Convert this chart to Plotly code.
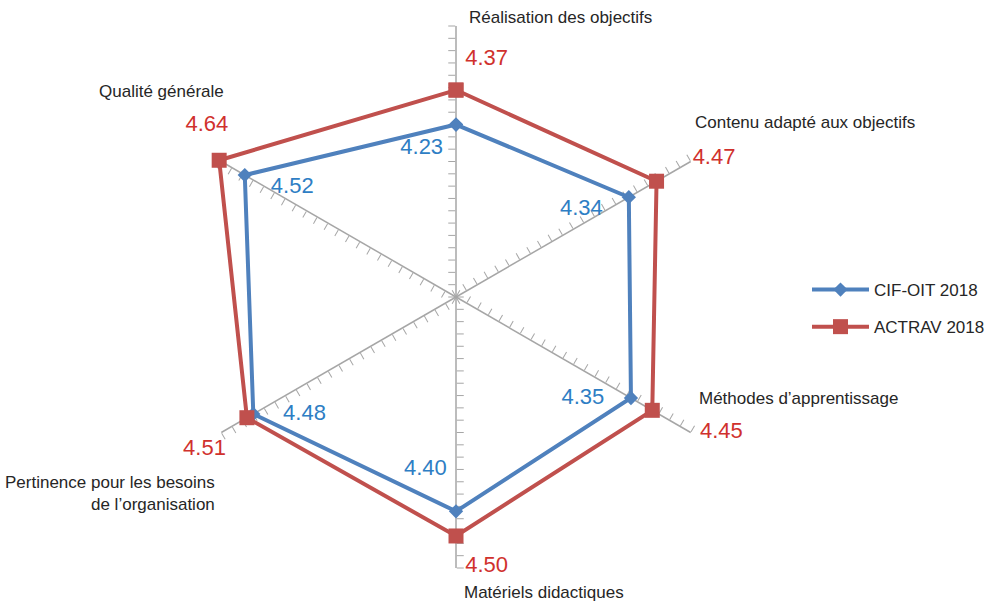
import plotly.graph_objects as go

# Evaluation criteria, clockwise from the top
categories = [
    "Réalisation des objectifs",
    "Contenu adapté aux objectifs",
    "Méthodes d’apprentissage",
    "Matériels didactiques",
    "Pertinence pour les besoins<br>de l’organisation",
    "Qualité générale",
]
cif_oit_2018 = [4.23, 4.34, 4.35, 4.40, 4.48, 4.52]
actrav_2018 = [4.37, 4.47, 4.45, 4.50, 4.51, 4.64]

series_names = ["CIF-OIT 2018", "ACTRAV 2018"]

# Value-label placement: (textposition, offset marker size, leading pad, trailing pad)
cif_label_style = [
    ("bottom left", 19, 0, 0),
    ("bottom left", 1, 0, 4),
    ("middle left", 41, 0, 0),
    ("top center", 47, 0, 10),
    ("middle right", 46, 0, 0),
    ("bottom right", 1, 4, 0),
]
actrav_label_style = [
    ("top center", 30, 10, 0),
    ("top right", 17, 4, 0),
    ("bottom right", 16, 6, 0),
    ("bottom center", 29, 10, 0),
    ("bottom left", 32, 0, 0),
    ("top center", 36, 0, 4),
]

# Radial scale
r_min, r_axis_max, r_data_max, r_step = 3.53, 4.63, 4.73, 0.05

W, H = 996, 601
CX, CY, R = 456, 297, 271          # centre and spoke length in pixels
FONT = "Liberation Sans, Arial, sans-serif"
BLUE, RED = "#4f81bd", "#c0504d"
BLUE_TXT, RED_TXT = "#2e7ec4", "#d0312d"
AXIS_GREY = "#a6a6a6"
NBSP = "\u00a0"

spoke_angles = [90, 30, -30, -90, -150, 150]


def domain_for(radius):
    return dict(
        x=[(CX - radius) / W, (CX + radius) / W],
        y=[(H - CY - radius) / H, (H - CY + radius) / H],
    )


fig = go.Figure()
layout = {}

# One polar subplot per spoke, each showing only its radial axis with ticks
for i, ang in enumerate(spoke_angles):
    name = "polar" if i == 0 else f"polar{i + 1}"
    fig.add_trace(go.Scatterpolar(
        r=[r_min], theta=[categories[0]], mode="markers",
        marker=dict(size=1, opacity=0), showlegend=False, hoverinfo="skip",
        subplot=name,
    ))
    layout[name] = dict(
        domain=domain_for(R),
        bgcolor="rgba(0,0,0,0)",
        angularaxis=dict(
            type="category", categoryarray=categories, rotation=90,
            direction="clockwise", showline=False, showgrid=False,
            showticklabels=False, ticks="",
        ),
        radialaxis=dict(
            range=[r_min, r_axis_max], angle=ang, side="counterclockwise",
            showline=True, linecolor=AXIS_GREY, linewidth=1.5,
            ticks="outside", ticklen=7, tickwidth=1.3, tickcolor=AXIS_GREY,
            dtick=r_step, tick0=r_min, showticklabels=False, showgrid=False,
        ),
    )

# Data subplot shares the same pixel scale but a wider range
data_radius = R * (r_data_max - r_min) / (r_axis_max - r_min)
data_polar = "polar7"
layout[data_polar] = dict(
    domain=domain_for(data_radius),
    bgcolor="rgba(0,0,0,0)",
    angularaxis=dict(type="category", categoryarray=categories, rotation=90,
                     direction="clockwise", visible=False),
    radialaxis=dict(range=[r_min, r_data_max], visible=False),
)


def closed(values):
    return list(values) + [values[0]]


series = [
    (cif_oit_2018, series_names[0], BLUE, "diamond", 11, "a"),
    (actrav_2018, series_names[1], RED, "square", 15, "b"),
]
for vals, name, color, symbol, size, group in series:
    fig.add_trace(go.Scatterpolar(
        r=closed(vals), theta=closed(categories), name=name,
        subplot=data_polar, mode="lines+markers",
        line=dict(color=color, width=4),
        marker=dict(symbol=symbol, size=size, color=color),
        cliponaxis=False, legendgroup=group,
    ))

# Value labels, drawn on top of both series
for vals, styles, txt_color in [
    (cif_oit_2018, cif_label_style, BLUE_TXT),
    (actrav_2018, actrav_label_style, RED_TXT),
]:
    fig.add_trace(go.Scatterpolar(
        r=vals, theta=categories, subplot=data_polar, mode="markers+text",
        marker=dict(size=[s[1] for s in styles], opacity=0),
        texttemplate=[NBSP * s[2] + "%{r:.2f}" + NBSP * s[3] for s in styles],
        textposition=[s[0] for s in styles],
        textfont=dict(family=FONT, size=22, color=txt_color),
        cliponaxis=False, showlegend=False, hoverinfo="skip",
    ))

# Category labels around the chart
label_specs = [
    (categories[0], 467, 18, "left"),
    (categories[1], 693, 122, "left"),
    (categories[2], 697, 398, "left"),
    (categories[3], 462, 592, "left"),
    (categories[4], 217, 493, "right"),
    (categories[5], 226, 92, "right"),
]
annotations = [
    dict(text=t, x=px / W, y=1 - py / H, xref="paper", yref="paper",
         xanchor=anchor, yanchor="middle", align=anchor, showarrow=False,
         font=dict(family=FONT, size=17, color="#262626"))
    for t, px, py, anchor in label_specs
]

fig.update_layout(
    width=W, height=H,
    margin=dict(l=0, r=0, t=0, b=0),
    paper_bgcolor="white", plot_bgcolor="white",
    annotations=annotations,
    legend=dict(x=807 / W, y=1 - 272 / H, xanchor="left", yanchor="top",
                font=dict(family=FONT, size=17, color="#262626"),
                traceorder="grouped", tracegroupgap=12, itemwidth=57,
                bgcolor="rgba(0,0,0,0)"),
    **layout,
)

fig.write_html("out.html")
